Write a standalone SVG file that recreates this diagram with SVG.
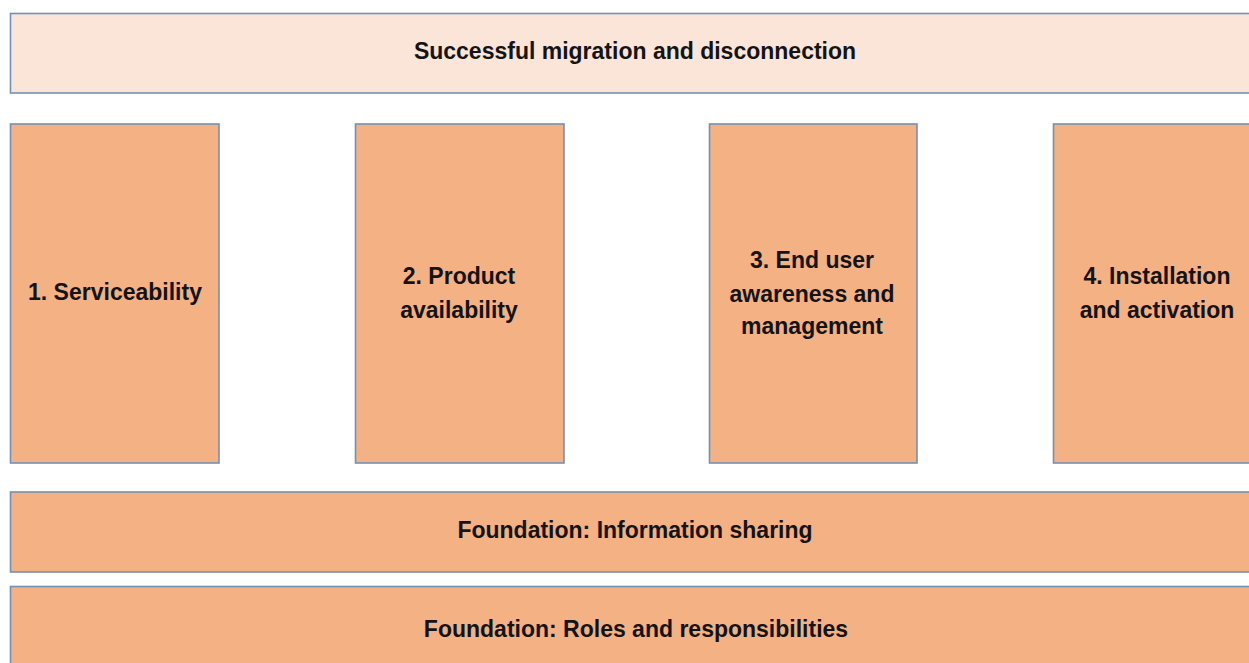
<svg xmlns="http://www.w3.org/2000/svg" width="1249" height="663" viewBox="0 0 1249 663">
<style>
.box{fill:#F3B184;stroke:#7391B4;stroke-width:1.6}
.top{fill:#FAE5D8;stroke:#7391B4;stroke-width:1.6}
text{font-family:"Liberation Sans",Arial,sans-serif;font-weight:bold;font-size:23px;fill:#141414;text-anchor:middle}
</style>
<rect width="1249" height="663" fill="#fff"/>
<g id="goal"><rect class="top" x="10.5" y="13.5" width="1250" height="79.5"/><text x="635" y="59">Successful migration and disconnection</text></g>
<g id="pillar1"><rect class="box" x="10.5" y="124" width="208.5" height="339"/><text x="115" y="300">1. Serviceability</text></g>
<g id="pillar2"><rect class="box" x="355.5" y="124" width="208.5" height="339"/><text x="459" y="284">2. Product</text><text x="459" y="318">availability</text></g>
<g id="pillar3"><rect class="box" x="709.5" y="124" width="207.5" height="339"/><text x="812" y="268">3. End user</text><text x="812" y="302">awareness and</text><text x="812" y="334">management</text></g>
<g id="pillar4"><rect class="box" x="1053.5" y="124" width="210" height="339"/><text x="1157" y="284">4. Installation</text><text x="1157" y="318">and activation</text></g>
<g id="foundation1"><rect class="box" x="10.5" y="492" width="1250" height="80"/><text x="635" y="538">Foundation: Information sharing</text></g>
<g id="foundation2"><rect class="box" x="10.5" y="586.5" width="1250" height="90"/><text x="636" y="637">Foundation: Roles and responsibilities</text></g>
<g id="connectors"></g>
</svg>
